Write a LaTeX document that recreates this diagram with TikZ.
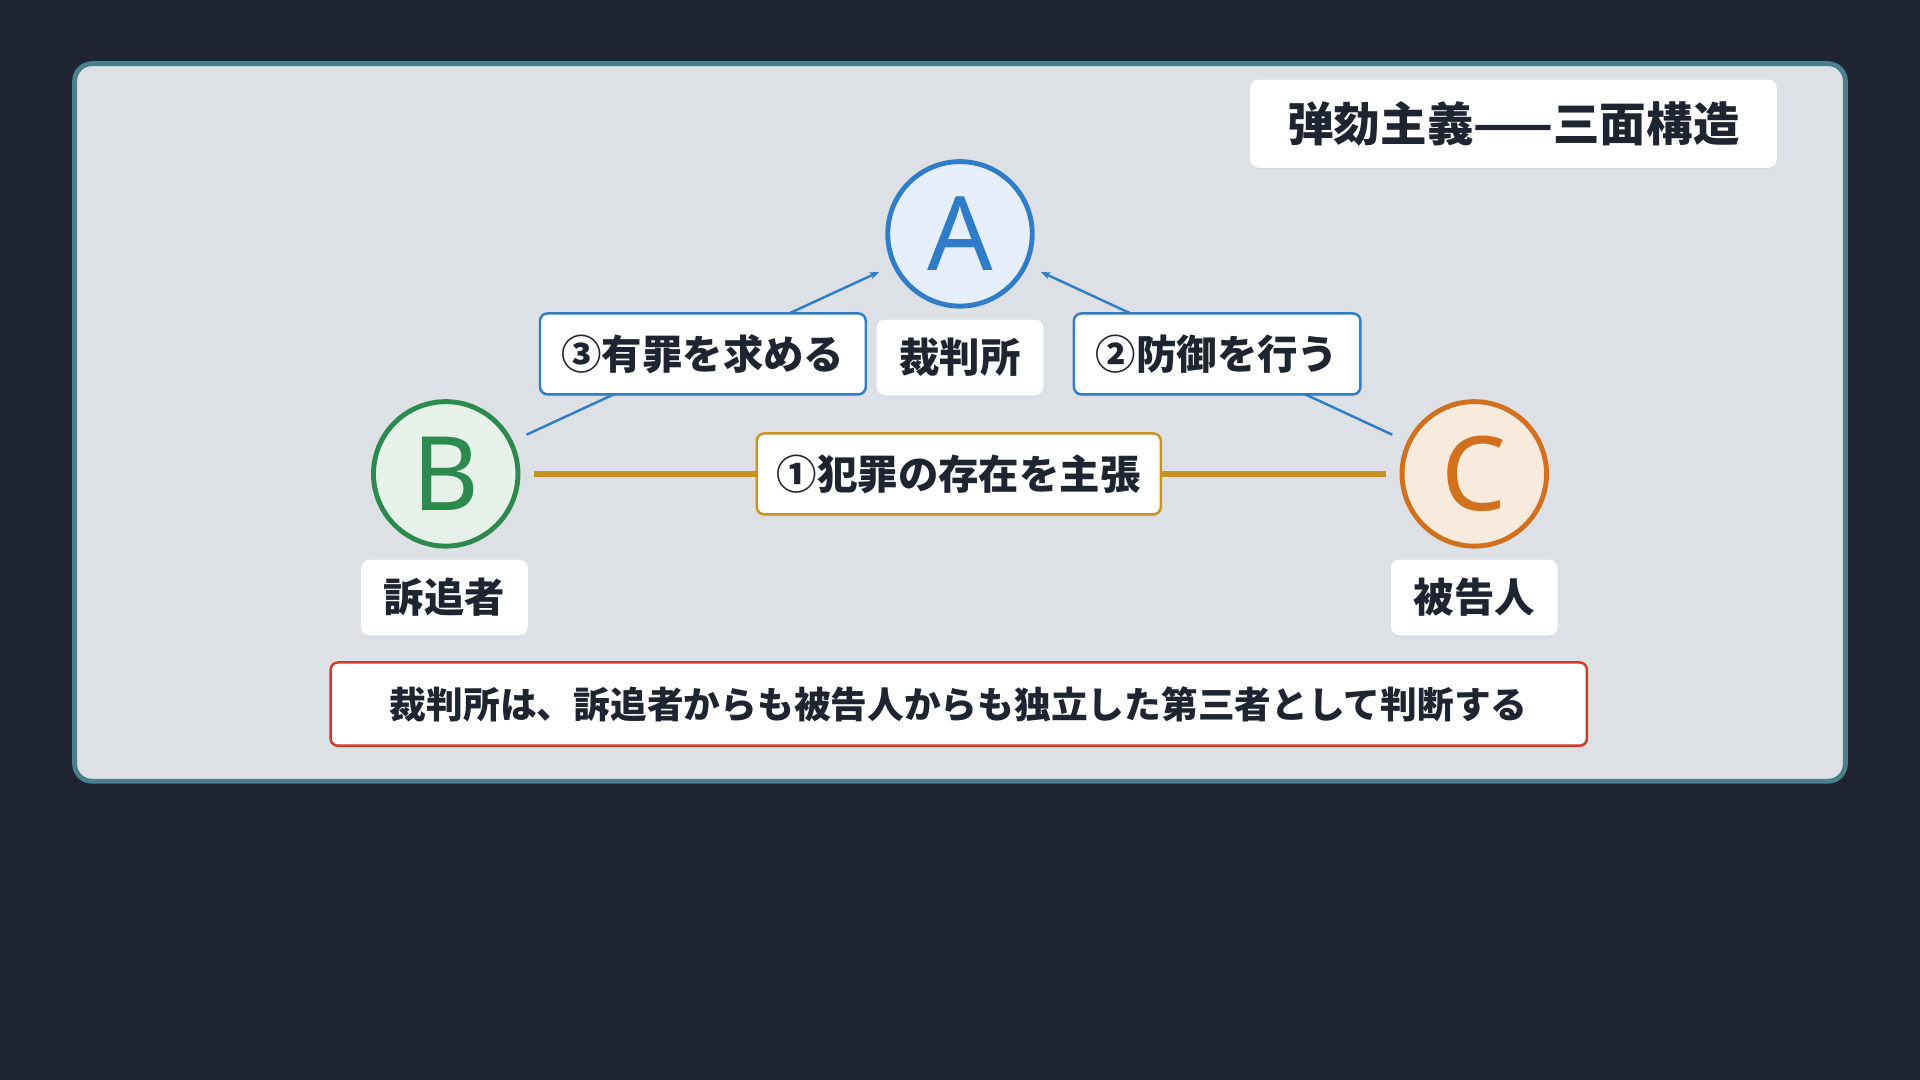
\documentclass[tikz,border=0pt]{standalone}
\usepackage{fontspec}
\setmainfont{Noto Sans CJK JP}
\newfontfamily\lat{Noto Sans}
\usetikzlibrary{arrows.meta,shadows}
\definecolor{bg}{HTML}{1E2430}
\definecolor{panel}{HTML}{DDE0E5}
\definecolor{frame}{HTML}{4A7F8C}
\definecolor{blu}{HTML}{2F7CC9}
\definecolor{grn}{HTML}{2D8A4E}
\definecolor{org}{HTML}{D3701E}
\definecolor{gold}{HTML}{C8921E}
\definecolor{rd}{HTML}{D03A2A}
\definecolor{txt}{HTML}{1E2430}
\begin{document}
\begin{tikzpicture}[x=0.5pt,y=-0.5pt,
 box/.style={draw=#1,line width=1pt,fill=white,rounded corners=3pt,text=txt,drop shadow={opacity=0.12,shadow xshift=0pt,shadow yshift=-1pt}},
 circ/.style={circle,line width=2pt,minimum size=59pt,inner sep=0pt,font=\lat\fontsize{42}{42}\selectfont\bfseries},
 conn/.style={blu,line width=1pt,-{Stealth[length=4pt,width=3pt]}}]
\fill[bg] (0,0) rectangle (1568,882);
\draw[fill=panel,draw=frame,line width=2pt,rounded corners=7pt] (61,52) rectangle (1507,638);
\node[box=white,minimum width=214pt,minimum height=35pt,font=\fontsize{19}{19}\selectfont\bfseries] (title) at (1236,101) {弹劾主義——三面構造};
\node[circ,draw=blu,fill=blu!12,text=blu] (A) at (784,191) {A};
\node[circ,draw=grn,fill=grn!12,text=grn] (B) at (364,387) {B};
\node[circ,draw=org,fill=org!15,text=org] (C) at (1204,387) {C};
\coordinate (b1) at (430,355); \coordinate (a1) at (718,222);
\coordinate (c1) at (1137,355); \coordinate (a2) at (850,222);
\coordinate (g1) at (436,387); \coordinate (g2) at (1132,387);
\draw[conn] (b1) -- (a1);
\draw[conn] (c1) -- (a2);
\draw[gold,line width=2.5pt] (g1) -- (g2);
\tikzset{lab/.style={box=white,draw=white,minimum width=67pt,minimum height=30pt,font=\fontsize{16.5}{16.5}\selectfont\bfseries}}
\node[lab] (la) at (784,292) {裁判所};
\node[lab] (lb) at (363,488) {訴追者};
\node[lab] (lc) at (1204,488) {被告人};
\tikzset{elab/.style={box=#1,minimum height=33pt,font=\fontsize{16.5}{16.5}\selectfont\bfseries}}
\node[elab=blu,minimum width=133pt] (e3) at (574,289) {③有罪を求める};
\node[elab=blu,minimum width=117pt] (e2) at (994,289) {②防御を行う};
\node[elab=gold,minimum width=165pt] (e1) at (783,387) {①犯罪の存在を主張};
\node[box=rd,minimum width=513pt,minimum height=34pt,font=\fontsize{15}{15}\selectfont\bfseries] (note) at (783,575) {裁判所は、訴追者からも被告人からも独立した第三者として判断する};
\end{tikzpicture}
\end{document}
